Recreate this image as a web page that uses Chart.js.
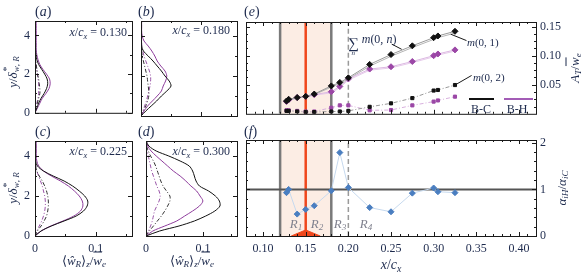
<!DOCTYPE html>
<html>
<head>
<meta charset="utf-8">
<script src="https://cdn.jsdelivr.net/npm/chart.js@4.4.1/dist/chart.umd.min.js"></script>
<style>
body { margin: 0; background: #fff; width: 585px; height: 276px; position: relative; overflow: hidden;
  font-family: 'Liberation Serif', 'Times New Roman', serif; color: #1d2a4d; }
canvas { position: absolute; }
.t { position: absolute; white-space: nowrap; line-height: 1; }
.c { transform: translate(-50%, -50%); }
.rot { transform: translate(-50%, -50%) rotate(-90deg); }
sub { font-size: 0.7em; vertical-align: -0.3em; line-height: 0; }
.ss { display: inline-flex; flex-direction: column; font-size: 0.68em; line-height: 0.95; vertical-align: -0.45em; }
.st { position: relative; display: inline-block; }
.st .up { position: absolute; left: 0.1em; top: -0.45em; font-size: 0.75em; }
.ob { text-decoration: overline; }
.rl { color: #80828f; font-size: 13px; font-style: italic; }
</style>
</head>
<body>
<canvas id="pa" width="140" height="125" style="left:0;top:0"></canvas>
<canvas id="pb" width="103" height="125" style="left:137px;top:0"></canvas>
<canvas id="pc" width="140" height="151" style="left:0;top:125px"></canvas>
<canvas id="pd" width="103" height="151" style="left:137px;top:125px"></canvas>
<canvas id="pe" width="345" height="125" style="left:240px;top:0"></canvas>
<canvas id="pf" width="345" height="151" style="left:240px;top:125px"></canvas>

<div class="t" style="left:35px;top:5px;font-size:14px">(<i>a</i>)</div>
<div class="t" style="left:138px;top:5px;font-size:14px">(<i>b</i>)</div>
<div class="t" style="left:35px;top:125px;font-size:14px">(<i>c</i>)</div>
<div class="t" style="left:138px;top:125px;font-size:14px">(<i>d</i>)</div>
<div class="t" style="left:244px;top:5px;font-size:14px">(<i>e</i>)</div>
<div class="t" style="left:244px;top:125px;font-size:14px">(<i>f</i>)</div>

<div class="t" style="right:458px;top:26px;font-size:12px"><i>x</i>/<i>c</i><sub><i>x</i></sub> = 0.130</div>
<div class="t" style="right:355px;top:24px;font-size:12px"><i>x</i>/<i>c</i><sub><i>x</i></sub> = 0.180</div>
<div class="t" style="right:458px;top:145px;font-size:12px"><i>x</i>/<i>c</i><sub><i>x</i></sub> = 0.225</div>
<div class="t" style="right:355px;top:145px;font-size:12px"><i>x</i>/<i>c</i><sub><i>x</i></sub> = 0.300</div>

<div class="t rot" style="left:12px;top:72px;font-size:13px"><i>y</i>/<i>δ</i><span class="st"><span class="up">*</span><sub><i>w</i>, <i>R</i></sub></span></div>
<div class="t rot" style="left:12px;top:188px;font-size:13px"><i>y</i>/<i>δ</i><span class="st"><span class="up">*</span><sub><i>w</i>, <i>R</i></sub></span></div>
<div class="t c" style="left:84px;top:260px;font-size:13px">⟨<i>ŵ</i><sub><i>R</i></sub>⟩<sub><i>z</i></sub>/<i class="ob">w</i><sub><i>e</i></sub></div>
<div class="t c" style="left:192px;top:260px;font-size:13px">⟨<i>ŵ</i><sub><i>R</i></sub>⟩<sub><i>z</i></sub>/<i class="ob">w</i><sub><i>e</i></sub></div>
<div class="t c" style="left:391px;top:265px;font-size:14px"><i>x</i>/<i>c</i><sub><i>x</i></sub></div>
<div class="t rot" style="left:574px;top:68px;font-size:13px"><i>A</i><sub><i>T</i></sub>/<i class="ob">w</i><sub><i>e</i></sub></div>
<div class="t rot" style="left:561px;top:188px;font-size:13px"><i>α</i><sub><i>iH</i></sub>/<i>α</i><sub><i>iC</i></sub></div>

<div class="t c rl" style="left:296px;top:223px"><i>R</i><sub>1</sub></div>
<div class="t c rl" style="left:317px;top:223px"><i>R</i><sub>2</sub></div>
<div class="t c rl" style="left:340px;top:223px"><i>R</i><sub>3</sub></div>
<div class="t c rl" style="left:366px;top:223px"><i>R</i><sub>4</sub></div>

<div class="t" style="left:348px;top:33px;font-size:12px"><span class="ss" style="font-size:15px;vertical-align:-0.3em;text-align:center"><span>∑</span><span style="font-size:7px"><i>n</i></span></span> <i>m</i>(0, <i>n</i>)</div>
<div class="t" style="left:467px;top:37px;font-size:11px"><i>m</i>(0, 1)</div>
<div class="t" style="left:473px;top:72px;font-size:11px"><i>m</i>(0, 2)</div>
<div style="position:absolute;left:469px;top:98px;width:25px;height:2px;background:#111"></div>
<div style="position:absolute;left:504px;top:98px;width:29px;height:2px;background:#a35cb6"></div>
<div class="t c" style="left:481px;top:109px;font-size:12px">B-C</div>
<div class="t c" style="left:517px;top:109px;font-size:12px">B-H</div>

<script>
// wall-normal positions of the profiles (y / delta*)
const profY = [0, 0.25, 0.5, 0.75, 1.0, 1.25, 1.5, 1.75, 2.0, 2.25, 2.5, 2.75, 3.0, 3.25, 3.5, 3.75, 4.0, 4.25, 4.5, 4.75];

// x/c_x = 0.130
const bc130  = [0, 0.003, 0.006, 0.010, 0.015, 0.019, 0.021, 0.020, 0.016, 0.011, 0.006, 0.003, 0.0015, 0.001, 0.001, 0.0008, 0.0008, 0.0008, 0.0008, 0.0008];
const bh130  = [0, 0.004, 0.008, 0.012, 0.018, 0.023, 0.025, 0.024, 0.019, 0.013, 0.008, 0.005, 0.003, 0.002, 0.002, 0.002, 0.002, 0.002, 0.002, 0.002];
const bc130d = [0, 0.002, 0.004, 0.006, 0.008, 0.008, 0.007, 0.006, 0.004, 0.003, 0.002, 0.001, 0.001, 0.0005, 0.0005, 0.0005, 0.0005, 0.0005, 0.0005, 0.0005];
const bh130d = [0, 0.0015, 0.003, 0.005, 0.006, 0.006, 0.006, 0.005, 0.004, 0.003, 0.002, 0.001, 0.001, 0.0008, 0.0008, 0.0008, 0.0008, 0.0008, 0.0008, 0.0008];
// x/c_x = 0.180
const bc180  = [0, 0.008, 0.017, 0.026, 0.034, 0.043, 0.050, 0.047, 0.040, 0.034, 0.027, 0.020, 0.012, 0.004, 0.001, 0.0008, 0.0008, 0.0008, 0.0008, 0.0008];
const bh180  = [0, 0.005, 0.011, 0.019, 0.027, 0.034, 0.037, 0.041, 0.043, 0.040, 0.033, 0.027, 0.023, 0.018, 0.012, 0.005, 0.002, 0.001, 0.001, 0.001];
const bc180d = [0, 0.004, 0.008, 0.011, 0.013, 0.013, 0.012, 0.011, 0.010, 0.008, 0.006, 0.004, 0.002, 0.001, 0.0005, 0.0005, 0.0005, 0.0005, 0.0005, 0.0005];
const bh180d = [0, 0.003, 0.006, 0.009, 0.011, 0.013, 0.015, 0.016, 0.016, 0.014, 0.011, 0.008, 0.005, 0.003, 0.0015, 0.001, 0.001, 0.001, 0.001, 0.001];
// x/c_x = 0.225
const bc225  = [0, 0.010, 0.027, 0.048, 0.068, 0.080, 0.086, 0.087, 0.082, 0.073, 0.062, 0.048, 0.030, 0.014, 0.004, 0.001, 0.001, 0.001, 0.001, 0.001];
const bh225  = [0, 0.010, 0.026, 0.046, 0.064, 0.075, 0.079, 0.078, 0.073, 0.065, 0.055, 0.042, 0.027, 0.014, 0.006, 0.003, 0.002, 0.002, 0.002, 0.002];
const bc225d = [0, 0.004, 0.010, 0.015, 0.019, 0.021, 0.022, 0.022, 0.021, 0.019, 0.016, 0.012, 0.007, 0.003, 0.001, 0.0008, 0.0008, 0.0008, 0.0008, 0.0008];
const bh225d = [0, 0.003, 0.007, 0.011, 0.014, 0.016, 0.017, 0.017, 0.016, 0.014, 0.012, 0.009, 0.006, 0.003, 0.0015, 0.001, 0.001, 0.001, 0.001, 0.001];
// x/c_x = 0.300
const bc300  = [0, 0.024, 0.058, 0.085, 0.105, 0.121, 0.130, 0.129, 0.122, 0.110, 0.094, 0.088, 0.085, 0.082, 0.076, 0.060, 0.040, 0.018, 0.005, 0];
const bh300  = [0, 0.012, 0.033, 0.054, 0.068, 0.082, 0.094, 0.100, 0.095, 0.089, 0.079, 0.070, 0.060, 0.048, 0.038, 0.028, 0.018, 0.009, 0.003, 0.001];
const bc300d = [0, 0.006, 0.013, 0.020, 0.027, 0.033, 0.038, 0.042, 0.042, 0.036, 0.030, 0.026, 0.023, 0.020, 0.017, 0.013, 0.008, 0.004, 0.001, 0];
const bh300d = [0, 0.004, 0.008, 0.011, 0.013, 0.015, 0.019, 0.023, 0.025, 0.023, 0.019, 0.016, 0.013, 0.010, 0.008, 0.006, 0.004, 0.002, 0.001, 0];

// panel (e)/(f): stations and amplitudes
const stations = [0.1275, 0.13, 0.14, 0.15, 0.16, 0.18, 0.19, 0.20, 0.225, 0.25, 0.275, 0.30, 0.305, 0.325];
const sumBC = [0.022, 0.025, 0.028, 0.030, 0.034, 0.048, 0.054, 0.062, 0.085, 0.102, 0.117, 0.131, 0.134, 0.142];
const m01BC = [0.021, 0.024, 0.027, 0.029, 0.033, 0.046, 0.052, 0.060, 0.082, 0.099, 0.114, 0.128, 0.131, 0.139];
const sumBH = [0.021, 0.024, 0.028, 0.030, 0.033, 0.038, 0.047, 0.060, 0.077, 0.081, 0.090, 0.100, 0.103, 0.110];
const m01BH = [0.020, 0.023, 0.027, 0.029, 0.032, 0.036, 0.045, 0.058, 0.075, 0.079, 0.088, 0.098, 0.101, 0.108];
const m02BC = [0.005, 0.005, 0.004, 0.003, 0.003, 0.004, 0.004, 0.005, 0.012, 0.018, 0.027, 0.040, 0.041, 0.0495];
const m02BH = [0.006, 0.006, 0.005, 0.004, 0.004, 0.0105, 0.0145, 0.0145, 0.006, 0.0065, 0.0145, 0.021, 0.023, 0.0295];
const ratioHC = [0.93, 1.0, 0.47, 0.57, 0.65, 0.97, 1.79, 1.04, 0.61, 0.52, 0.92, 1.03, 0.95, 0.93];

const regionEdges = [0.12, 0.18];
const markerX = 0.15;
const dashX = 0.20;
const humpX = [0.133, 0.15, 0.167];
const humpY = [0, 0.13, 0];
// leader lines of the annotations (x1, y1, x2, y2 in data units)
const leadersE = [[0.2508, 0.120, 0.2625, 0.111], [0.320, 0.137, 0.3385, 0.126], [0.325, 0.0495, 0.3445, 0.066]];

// axes
const xRangeProf = [0, 0.16], yRangeProf = [0, 4.75];
const xRangeE = [0.08, 0.42], yRangeE = [0, 0.158], yRangeF = [0, 2.06];
const xTicksProf = [0, 0.1], yTicksProf = [0, 2, 4];
const xTicksE = [0.10, 0.15, 0.20, 0.25, 0.30, 0.35, 0.40];
const yTicksE = [0.05, 0.10, 0.15];
const yTicksF = [0, 1, 2];

const serif = "'Liberation Serif', 'Times New Roman', serif";
const tickFont = { family: serif, size: 12 };
const tickColor = '#1d2a4d';
const purple = '#8e3d9c';

function steps(a, b, s) { const out = []; for (let v = a; v <= b + 1e-9; v += s) out.push(+v.toFixed(4)); return out; }
function pts(xs, ys) { return xs.map((v, i) => ({ x: v, y: ys[i] })); }
function prof(vals) { return vals.map((v, i) => ({ x: v, y: profY[i] })); }
function fixTicks(list) { return s => { s.ticks = list.map(v => ({ value: v })); }; }

const framePlugin = {
  id: 'frame',
  beforeDatasetsDraw(chart, args, o) {
    if (!o.band) return;
    const { ctx, chartArea: a, scales: { x } } = chart;
    const l = x.getPixelForValue(o.band[0]), r = x.getPixelForValue(o.band[1]);
    ctx.save();
    ctx.fillStyle = 'rgba(250, 222, 205, 0.55)';
    ctx.fillRect(l, a.top, r - l, a.bottom - a.top);
    ctx.restore();
  },
  afterDatasetsDraw(chart, args, o) {
    const { ctx, chartArea: a, scales: { x, y } } = chart;
    ctx.save();
    ctx.strokeStyle = '#1a1a1a';
    ctx.lineWidth = 1;
    ctx.beginPath();
    const xt = (v, len) => {
      const p = Math.round(x.getPixelForValue(v)) + 0.5;
      ctx.moveTo(p, a.bottom); ctx.lineTo(p, a.bottom - len);
      ctx.moveTo(p, a.top); ctx.lineTo(p, a.top + len);
    };
    const yt = (v, len) => {
      const p = Math.round(y.getPixelForValue(v)) + 0.5;
      ctx.moveTo(a.left, p); ctx.lineTo(a.left + len, p);
      ctx.moveTo(a.right, p); ctx.lineTo(a.right - len, p);
    };
    (o.xMinor || []).forEach(v => xt(v, 2));
    (o.xMajor || []).forEach(v => xt(v, 4));
    (o.yMinor || []).forEach(v => yt(v, 2));
    (o.yMajor || []).forEach(v => yt(v, 4));
    ctx.stroke();
    ctx.strokeRect(a.left + 0.5, a.top + 0.5, a.right - a.left, a.bottom - a.top);
    if (o.leaders) {
      ctx.beginPath();
      o.leaders.forEach(s => {
        ctx.moveTo(x.getPixelForValue(s[0]), y.getPixelForValue(s[1]));
        ctx.lineTo(x.getPixelForValue(s[2]), y.getPixelForValue(s[3]));
      });
      ctx.stroke();
    }
    ctx.restore();
  }
};

// hidden axes must not reserve room, so afterFit only applies when shown
function axis(range, ticks, show, size, extra) {
  const fit = show && size ? (s => { if (s.isHorizontal()) s.height = size; else s.width = size; }) : undefined;
  return Object.assign({
    type: 'linear', min: range[0], max: range[1], display: show,
    afterBuildTicks: fixTicks(ticks), afterFit: fit,
    grid: { display: false, drawTicks: false }, border: { display: false },
    ticks: { font: tickFont, color: tickColor, padding: 5 }
  }, extra || {});
}

function profileChart(id, bc, bh, bcd, bhd, showY, showX, pad) {
  const line = (d, col, dash) => ({ data: prof(d), showLine: true, pointRadius: 0, borderColor: col, borderWidth: 1, borderDash: dash || [], tension: 0.3 });
  new Chart(document.getElementById(id), {
    type: 'scatter',
    data: { datasets: [
      line(bc, '#111'), line(bh, purple),
      line(bcd, '#333', [4, 2, 1, 2]), line(bhd, '#9a55a8', [4, 2, 1, 2])
    ] },
    options: {
      responsive: false, animation: false, devicePixelRatio: 1,
      layout: { padding: pad },
      plugins: { legend: { display: false }, tooltip: { enabled: false },
        frame: { xMajor: xTicksProf, xMinor: [0.05, 0.15], yMajor: yTicksProf, yMinor: [1, 3] } },
      scales: {
        x: axis(xRangeProf, xTicksProf, showX, 40, { ticks: { font: tickFont, color: tickColor, padding: 6 } }),
        y: axis(yRangeProf, yTicksProf, showY, 35)
      }
    },
    plugins: [framePlugin]
  });
}

profileChart('pa', bc130, bh130, bc130d, bh130d, true, false, { left: 0, top: 21, right: 8, bottom: 9 });
profileChart('pb', bc180, bh180, bc180d, bh180d, false, false, { left: 4, top: 21, right: 3, bottom: 9 });
profileChart('pc', bc225, bh225, bc225d, bh225d, true, true, { left: 0, top: 16, right: 8, bottom: 0 });
profileChart('pd', bc300, bh300, bc300d, bh300d, false, true, { left: 4, top: 16, right: 3, bottom: 0 });

function vlines(yMax) {
  const v = (x, col, w, dash) => ({ data: [{ x: x, y: 0 }, { x: x, y: yMax }], showLine: true, pointRadius: 0, borderColor: col, borderWidth: w, borderDash: dash || [], order: 10 });
  return [v(regionEdges[0], '#7a7a7a', 2.5), v(regionEdges[1], '#7a7a7a', 2.5), v(markerX, '#f0471c', 2.5), v(dashX, '#9a9a9a', 1.5, [5, 3])];
}

const xMinorE = steps(0.08, 0.42, 0.01);

new Chart(document.getElementById('pe'), {
  type: 'scatter',
  data: { datasets: vlines(yRangeE[1]).concat([
    { data: pts(stations, m01BC), showLine: true, pointRadius: 0, borderColor: '#b5b5b5', borderWidth: 1, order: 5 },
    { data: pts(stations, m01BH), showLine: true, pointRadius: 0, borderColor: '#e6cbea', borderWidth: 1, order: 5 },
    { data: pts(stations, sumBC), showLine: true, pointStyle: 'rectRot', pointRadius: 3, backgroundColor: '#111', borderColor: '#999', pointBorderColor: '#111', borderWidth: 1, order: 2 },
    { data: pts(stations, sumBH), showLine: true, pointStyle: 'rectRot', pointRadius: 3, backgroundColor: '#9b47a6', borderColor: '#dcb8e2', pointBorderColor: '#9b47a6', borderWidth: 1, order: 3 },
    { data: pts(stations, m02BC), showLine: true, pointStyle: 'rect', pointRadius: 2.2, backgroundColor: '#111', borderColor: '#999', pointBorderColor: '#111', borderWidth: 1, borderDash: [4, 2, 1, 2], order: 2 },
    { data: pts(stations, m02BH), showLine: true, pointStyle: 'rect', pointRadius: 2.2, backgroundColor: '#9b47a6', borderColor: '#d8b0de', pointBorderColor: '#9b47a6', borderWidth: 1, borderDash: [4, 2, 1, 2], order: 3 }
  ]) },
  options: {
    responsive: false, animation: false, devicePixelRatio: 1,
    layout: { padding: { left: 6, top: 22, right: 0, bottom: 8 } },
    plugins: { legend: { display: false }, tooltip: { enabled: false },
      frame: { band: regionEdges, leaders: leadersE, xMajor: xTicksE, xMinor: xMinorE, yMajor: yTicksE, yMinor: steps(0.0125, 0.15, 0.0125) } },
    scales: {
      x: axis(xRangeE, xTicksE, false, 0),
      y: axis(yRangeE, yTicksE, true, 49, { position: 'right', ticks: { font: tickFont, color: tickColor, padding: 4, callback: v => v.toFixed(2) } })
    }
  },
  plugins: [framePlugin]
});

new Chart(document.getElementById('pf'), {
  type: 'scatter',
  data: { datasets: vlines(yRangeF[1]).concat([
    { data: [{ x: xRangeE[0], y: 1 }, { x: xRangeE[1], y: 1 }], showLine: true, pointRadius: 0, borderColor: '#555', borderWidth: 2, order: 4 },
    { data: pts(humpX, humpY), showLine: true, pointRadius: 0, borderColor: '#f0471c', backgroundColor: '#f0471c', borderWidth: 1, fill: 'origin', order: 3 },
    { data: pts(stations, ratioHC), showLine: true, pointStyle: 'rectRot', pointRadius: 3, backgroundColor: '#4a7ec0', pointBorderColor: '#4a7ec0', borderColor: '#c6d9ee', borderWidth: 1, order: 1 }
  ]) },
  options: {
    responsive: false, animation: false, devicePixelRatio: 1,
    layout: { padding: { left: 6, top: 15, right: 0, bottom: 0 } },
    plugins: { legend: { display: false }, tooltip: { enabled: false }, filler: { propagate: false },
      frame: { band: regionEdges, xMajor: xTicksE, xMinor: xMinorE, yMajor: yTicksF, yMinor: steps(0.2, 2, 0.2) } },
    scales: {
      x: axis(xRangeE, xTicksE, true, 40, { ticks: { font: tickFont, color: tickColor, padding: 6, callback: v => v.toFixed(2) } }),
      y: axis(yRangeF, yTicksF, true, 49, { position: 'right', ticks: { font: tickFont, color: tickColor, padding: 4, callback: v => String(v) } })
    }
  },
  plugins: [framePlugin]
});
</script>
</body>
</html>
